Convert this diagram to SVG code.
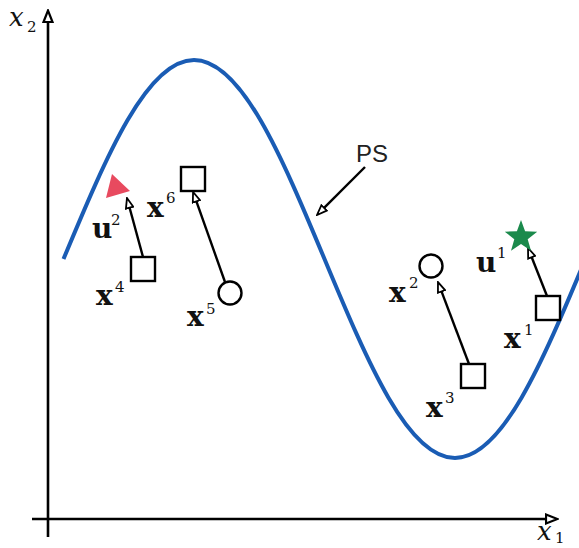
<svg xmlns="http://www.w3.org/2000/svg" width="579" height="548" viewBox="0 0 579 548">
<style>
.ax{stroke:#000;stroke-width:2.6;fill:none}
.cn{stroke:#000;stroke-width:2.4;fill:none;marker-end:url(#ah)}
.box{fill:#fff;stroke:#000;stroke-width:2.4}
.lb{font-family:"DejaVu Serif","Liberation Serif",serif;font-weight:bold;font-size:28px;fill:#111}
.sp{font-family:"DejaVu Serif","Liberation Serif",serif;font-size:15px;fill:#111}
.ai{font-family:"DejaVu Serif","Liberation Serif",serif;font-style:italic;font-size:26px;fill:#111}
.as{font-family:"DejaVu Serif","Liberation Serif",serif;font-size:15px;fill:#111}
.ps{font-family:"Liberation Sans",Arial,sans-serif;font-size:24px;fill:#222}
</style>
<defs>
<marker id="ah" viewBox="0 0 12 10" refX="1" refY="5" markerWidth="12" markerHeight="10" markerUnits="userSpaceOnUse" orient="auto">
<path d="M1,1.2 L11,5 L1,8.8 Z" fill="#fff" stroke="#000" stroke-width="1.8" stroke-linejoin="miter"/>
</marker>
<marker id="axh" viewBox="0 0 14 12" refX="1" refY="6" markerWidth="14" markerHeight="12" markerUnits="userSpaceOnUse" orient="auto">
<path d="M1,1.5 L12.5,6 L1,10.5 Z" fill="#fff" stroke="#000" stroke-width="2.2"/>
</marker>
</defs>
<rect width="579" height="548" fill="#fff"/>
<g id="axes">
<line class="ax" x1="48" y1="537" x2="48" y2="22" marker-end="url(#axh)"/>
<line class="ax" x1="32" y1="519" x2="546" y2="519" marker-end="url(#axh)"/>
<text class="ai" x="9" y="26">x</text><text class="as" x="27" y="32">2</text>
<text class="ai" x="537" y="540">x</text><text class="as" x="555" y="543">1</text>
</g>
<g id="curve">
<path d="M63.5,259 C107.1,154.5 147,60 194,60 C241,60 280.9,154.5 324.5,259 C368.1,363.5 408,458 455,458 C502,458 541.9,363.5 585.5,259" fill="none" stroke="#1a5cb4" stroke-width="4"/>
</g>
<g id="connectors">
<line class="cn" x1="143" y1="257" x2="129.6" y2="207.7"/>
<line class="cn" x1="225" y1="282" x2="196.4" y2="201.4"/>
<line class="cn" x1="365" y1="167" x2="324.1" y2="207.9"/>
<line class="cn" x1="469" y1="364" x2="441.5" y2="291.4"/>
<line class="cn" x1="547" y1="296" x2="531.7" y2="257.3"/>
</g>
<g id="PS"><text class="ps" x="356" y="162">PS</text></g>
<g id="u2">
<polygon points="112,174 106,198 130,191" fill="#e84a5f"/>
<text class="lb" x="92" y="238">u</text><text class="sp" x="111" y="225">2</text>
</g>
<g id="x6">
<rect class="box" x="181" y="167" width="24" height="24"/>
<text class="lb" x="147" y="217">x</text><text class="sp" x="166" y="203">6</text>
</g>
<g id="x4">
<rect class="box" x="131" y="257" width="24" height="24"/>
<text class="lb" x="96" y="305">x</text><text class="sp" x="115" y="292">4</text>
</g>
<g id="x5">
<circle class="box" cx="230" cy="293" r="11.5"/>
<text class="lb" x="187" y="326">x</text><text class="sp" x="206" y="314">5</text>
</g>
<g id="x2">
<circle class="box" cx="431" cy="266" r="11.5"/>
<text class="lb" x="389" y="302">x</text><text class="sp" x="409" y="288">2</text>
</g>
<g id="x3">
<rect class="box" x="461" y="364" width="24" height="24"/>
<text class="lb" x="426" y="417">x</text><text class="sp" x="445" y="403">3</text>
</g>
<g id="x1">
<rect class="box" x="536" y="296" width="24" height="24"/>
<text class="lb" x="504" y="348">x</text><text class="sp" x="524" y="335">1</text>
</g>
<g id="u1">
<polygon points="521,220 525.1,231.3 537.2,231.7 527.7,239.2 531,250.8 521,244 511,250.8 514.3,239.2 504.8,231.7 516.9,231.3" fill="#1b8a4c"/>
<text class="lb" x="476" y="272">u</text><text class="sp" x="497" y="258">1</text>
</g>
</svg>
